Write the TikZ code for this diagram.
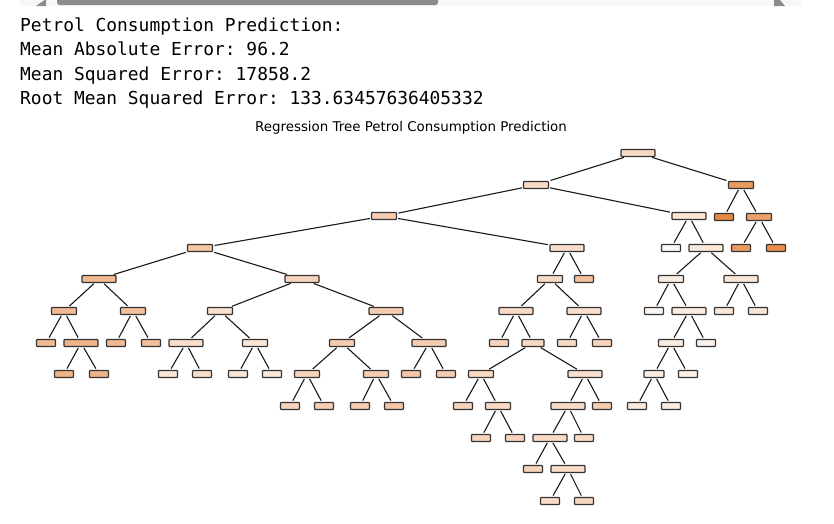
\documentclass[tikz,border=0pt]{standalone}
\usepackage{fontspec}
\setmainfont{DejaVu Sans}
\setmonofont{DejaVu Sans Mono}
\definecolor{tree}{HTML}{E58139}
\definecolor{thumb}{HTML}{8C8C8C}
\tikzset{
    box/.style={draw=black!80,line width=1.2pt,rounded corners=0.8pt,minimum height=7pt,inner sep=0pt},
    leaf/.style={box,minimum width=19pt},
    split/.style={box,minimum width=25pt},
    wide/.style={box,minimum width=34pt}
}
\begin{document}
\begin{tikzpicture}[x=1pt,y=-1pt]
        \useasboundingbox (0,0) rectangle (834,523);
        % scroll bar
        \fill[black!3] (20,0) rectangle (801,6);
        \fill[thumb,rounded corners=2.5pt] (57,-3) rectangle (438,5);
        \fill[thumb] (36,6) -- (46,-1) -- (46,6) -- cycle;
        \fill[thumb] (774,0) -- (780,0) -- (785,6) -- (774,6) -- cycle;

        \begin{scope}[every node/.style={anchor=base west,inner sep=0pt,font=\fontsize{17.9}{20}\selectfont\ttfamily}]
            \node (l1) at (20,31) {Petrol Consumption Prediction:};
            \node (l2) at (20,55.5) {Mean Absolute Error: 96.2};
            \node (l3) at (20,80) {Mean Squared Error: 17858.2};
            \node (l4) at (20,104.5) {Root Mean Squared Error: 133.63457636405332};
        \end{scope}
        \node[font=\fontsize{13.4}{15}\selectfont,anchor=base] (title) at (411,131) {Regression Tree Petrol Consumption Prediction};

        % tree nodes
        \node[wide,fill=tree!30] (r) at (638,153) {};
        \node[split,fill=tree!30] (a) at (536,185) {};
        \node[split,fill=tree!80] (b) at (741,185) {};
        \node[leaf,fill=tree!95] (b1) at (724,217) {};
        \node[split,fill=tree!75] (b2) at (759,217) {};
        \node[leaf,fill=tree!80] (b21) at (741,248) {};
        \node[leaf,fill=tree!90] (b22) at (776,248) {};

        \node[wide,fill=tree!20] (c) at (689,216) {};
        \node[leaf,fill=tree!4] (c1) at (671,248) {};
        \node[wide,fill=tree!18] (c2) at (706,248) {};
        \node[split,fill=tree!15] (c21) at (671,279) {};
        \node[wide,fill=tree!20] (c22) at (741,279) {};
        \node[leaf,fill=tree!8] (c211) at (654,311) {};
        \node[wide,fill=tree!15] (c212) at (689,311) {};
        \node[leaf,fill=tree!20] (c221) at (724,311) {};
        \node[leaf,fill=tree!22] (c222) at (758,311) {};
        \node[split,fill=tree!15] (c2121) at (671,343) {};
        \node[leaf,fill=tree!10] (c2122) at (706,343) {};
        \node[leaf,minimum width=20pt,fill=tree!15] (c21211) at (654,374) {};
        \node[leaf,fill=tree!12] (c21212) at (688,374) {};
        \node[leaf,fill=tree!18] (c212111) at (637,406) {};
        \node[leaf,fill=tree!15] (c212112) at (671,406) {};

        \node[split,fill=tree!40] (d) at (384,216) {};
        \node[wide,fill=tree!28] (e) at (567,248) {};
        \node[split,fill=tree!45] (f) at (200,248) {};
        \node[wide,fill=tree!55] (g) at (99,279) {};
        \node[wide,fill=tree!35] (h) at (302,279) {};
        \node[split,fill=tree!55] (g1) at (64,311) {};
        \node[split,fill=tree!50] (g2) at (133,311) {};
        \node[split,fill=tree!25] (h1) at (220,311) {};
        \node[wide,fill=tree!40] (h2) at (386,311) {};
        \node[leaf,fill=tree!55] (g11) at (46,343) {};
        \node[wide,fill=tree!60] (g12) at (81,343) {};
        \node[leaf,fill=tree!55] (g21) at (116,343) {};
        \node[leaf,fill=tree!50] (g22) at (151,343) {};
        \node[wide,fill=tree!25] (h11) at (186,343) {};
        \node[split,fill=tree!20] (h12) at (255,343) {};
        \node[split,fill=tree!40] (h21) at (342,343) {};
        \node[wide,fill=tree!40] (h22) at (429,343) {};
        \node[leaf,fill=tree!60] (g121) at (64,374) {};
        \node[leaf,fill=tree!60] (g122) at (99,374) {};
        \node[leaf,fill=tree!20] (h111) at (168,374) {};
        \node[leaf,fill=tree!25] (h112) at (202,374) {};
        \node[leaf,fill=tree!20] (h121) at (238,374) {};
        \node[leaf,fill=tree!18] (h122) at (272,374) {};
        \node[split,fill=tree!35] (h211) at (307,374) {};
        \node[split,fill=tree!40] (h212) at (376,374) {};
        \node[leaf,fill=tree!45] (h221) at (411,374) {};
        \node[leaf,fill=tree!40] (h222) at (446,374) {};
        \node[leaf,fill=tree!35] (h2111) at (290,406) {};
        \node[leaf,fill=tree!38] (h2112) at (324,406) {};
        \node[leaf,fill=tree!40] (h2121) at (360,406) {};
        \node[leaf,fill=tree!45] (h2122) at (394,406) {};

        \node[split,fill=tree!30] (e1) at (550,279) {};
        \node[leaf,fill=tree!50] (e2) at (584,279) {};
        \node[wide,fill=tree!30] (e11) at (516,311) {};
        \node[wide,fill=tree!25] (e12) at (584,311) {};
        \node[leaf,fill=tree!35] (e111) at (499,343) {};
        \node[leaf,minimum width=22pt,fill=tree!30] (e112) at (533,343) {};
        \node[leaf,fill=tree!30] (e121) at (567,343) {};
        \node[leaf,fill=tree!35] (e122) at (602,343) {};
        \node[split,fill=tree!30] (e1121) at (481,374) {};
        \node[wide,fill=tree!25] (e1122) at (585,374) {};
        \node[leaf,fill=tree!35] (e11211) at (463,406) {};
        \node[split,fill=tree!30] (e11212) at (498,406) {};
        \node[wide,fill=tree!28] (e11221) at (568,406) {};
        \node[leaf,fill=tree!40] (e11222) at (602,406) {};
        \node[leaf,fill=tree!35] (e112121) at (481,438) {};
        \node[leaf,fill=tree!35] (e112122) at (515,438) {};
        \node[wide,fill=tree!28] (e112211) at (550,438) {};
        \node[leaf,fill=tree!30] (e112212) at (584,438) {};
        \node[leaf,fill=tree!35] (e1122111) at (533,469) {};
        \node[wide,fill=tree!28] (e1122112) at (568,469) {};
        \node[leaf,fill=tree!28] (e11221121) at (550,501) {};
        \node[leaf,fill=tree!32] (e11221122) at (584,501) {};

        \begin{scope}[line width=1.1pt,black!90,shorten >=1.5pt,shorten <=1pt]
            \draw (r)--(a); \draw (r)--(b);
            \draw (b)--(b1); \draw (b)--(b2);
            \draw (b2)--(b21); \draw (b2)--(b22);

            \draw (a)--(d); \draw (a)--(c);
            \draw (c)--(c1); \draw (c)--(c2);
            \draw (c2)--(c21); \draw (c2)--(c22);
            \draw (c21)--(c211); \draw (c21)--(c212);
            \draw (c22)--(c221); \draw (c22)--(c222);
            \draw (c212)--(c2121); \draw (c212)--(c2122);
            \draw (c2121)--(c21211); \draw (c2121)--(c21212);
            \draw (c21211)--(c212111); \draw (c21211)--(c212112);

            \draw (d)--(f); \draw (d)--(e);
            \draw (f)--(g); \draw (f)--(h);
            \draw (g)--(g1); \draw (g)--(g2);
            \draw (h)--(h1); \draw (h)--(h2);
            \draw (g1)--(g11); \draw (g1)--(g12);
            \draw (g2)--(g21); \draw (g2)--(g22);
            \draw (h1)--(h11); \draw (h1)--(h12);
            \draw (h2)--(h21); \draw (h2)--(h22);
            \draw (g12)--(g121); \draw (g12)--(g122);
            \draw (h11)--(h111); \draw (h11)--(h112);
            \draw (h12)--(h121); \draw (h12)--(h122);
            \draw (h21)--(h211); \draw (h21)--(h212);
            \draw (h22)--(h221); \draw (h22)--(h222);
            \draw (h211)--(h2111); \draw (h211)--(h2112);
            \draw (h212)--(h2121); \draw (h212)--(h2122);

            \draw (e)--(e1); \draw (e)--(e2);
            \draw (e1)--(e11); \draw (e1)--(e12);
            \draw (e11)--(e111); \draw (e11)--(e112);
            \draw (e12)--(e121); \draw (e12)--(e122);
            \draw (e112)--(e1121); \draw (e112)--(e1122);
            \draw (e1121)--(e11211); \draw (e1121)--(e11212);
            \draw (e1122)--(e11221); \draw (e1122)--(e11222);
            \draw (e11212)--(e112121); \draw (e11212)--(e112122);
            \draw (e11221)--(e112211); \draw (e11221)--(e112212);
            \draw (e112211)--(e1122111); \draw (e112211)--(e1122112);
            \draw (e1122112)--(e11221121); \draw (e1122112)--(e11221122);
        \end{scope}
    \end{tikzpicture}
\end{document}
